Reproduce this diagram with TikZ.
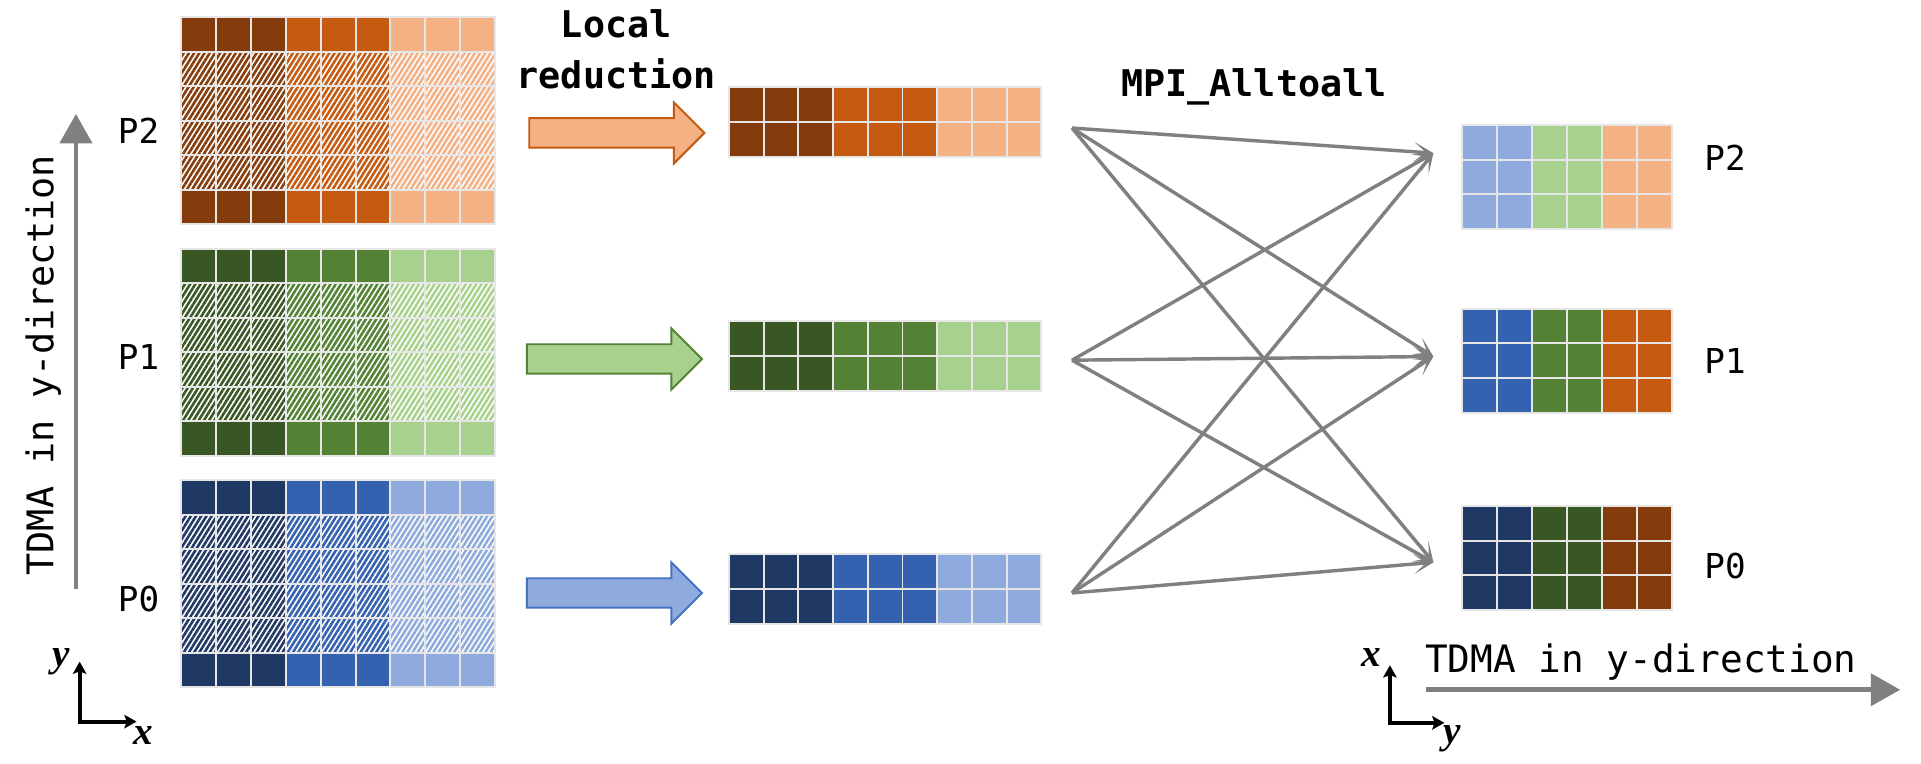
\documentclass[tikz,border=0pt]{standalone}
\usepackage{fontspec}
\newfontfamily\monof{DejaVu Sans Mono}
\newfontfamily\serf{Liberation Serif}
\usetikzlibrary{arrows.meta,patterns.meta}
\definecolor{od}{HTML}{843C0C}
\definecolor{om}{HTML}{C55A11}
\definecolor{ol}{HTML}{F4B183}
\definecolor{gd}{HTML}{385723}
\definecolor{gm}{HTML}{548235}
\definecolor{gl}{HTML}{A9D18E}
\definecolor{bd}{HTML}{203864}
\definecolor{bm}{HTML}{3461B0}
\definecolor{bl}{HTML}{8FAADC}
\definecolor{bb}{HTML}{4472C4}
\definecolor{arrgray}{HTML}{808080}
\definecolor{cellline}{HTML}{E6E6E6}
\tikzset{
  gridcell/.style={draw=cellline, line width=1.6pt},
  lbl/.style={inner sep=0pt, font=\monof\fontsize{28}{34}\selectfont},
  bigtxt/.style={inner sep=0pt, font=\monof\fontsize{30}{36}\selectfont},
  htxt/.style={inner sep=0pt, font=\monof\fontsize{30.8}{36}\selectfont},
  boldtxt/.style={inner sep=0pt, font=\monof\bfseries\fontsize{30}{36}\selectfont},
  axlbl/.style={inner sep=0pt, font=\serf\itshape\bfseries\fontsize{32}{36}\selectfont},
  alltoall/.style={draw=arrgray, line width=2.8pt, -{Stealth[length=16pt,width=16pt,inset=10pt]}},
  grayaxis/.style={draw=arrgray, line width=4pt, -{Triangle[length=24pt,width=26pt]}},
  blackaxis/.style={draw=black, line width=3.2pt, line join=miter, {Stealth[length=10pt,width=11pt,inset=2pt]}-{Stealth[length=10pt,width=11pt,inset=2pt]}},
  blockarrow/.style={line width=1.6pt, line join=miter}
}
\begin{document}
\begin{tikzpicture}[x=1pt,y=-1pt]
\useasboundingbox (0,0) rectangle (1568,623);
\fill[white] (0,0) rectangle (1568,623);

% ---------- left grids (9 columns x 6 rows) ----------
\foreach \top/\pre in {14/o, 203/g, 392/b} {
  \foreach \c in {0,...,8} {
    \pgfmathtruncatemacro\grp{\c/3}
    \ifcase\grp \def\sh{d}\or \def\sh{m}\or \def\sh{l}\fi
    \edef\cc{\pre\sh}
    \foreach \r in {0,...,5} {
      \pgfmathsetmacro\xa{148+\c*28.44}
      \pgfmathsetmacro\ya{\top+\r*28.17}
      \ifnum\r=0
        \fill[fill=\cc] (\xa,\ya) rectangle ++(28.44,28.17);
      \else\ifnum\r=5
        \fill[fill=\cc] (\xa,\ya) rectangle ++(28.44,28.17);
      \else
        \fill[white] (\xa,\ya) rectangle ++(28.44,28.17);
        \fill[pattern={Lines[angle=58,distance=3.6pt,line width=2.1pt]}, pattern color=\cc] (\xa,\ya) rectangle ++(28.44,28.17);
      \fi\fi
      \draw[gridcell] (\xa,\ya) rectangle ++(28.44,28.17);
    }
  }
}

% ---------- reduced grids (9 columns x 2 rows) ----------
\foreach \top/\pre in {71/o, 262/g, 452/b} {
  \foreach \c in {0,...,8} {
    \pgfmathtruncatemacro\grp{\c/3}
    \ifcase\grp \def\sh{d}\or \def\sh{m}\or \def\sh{l}\fi
    \edef\cc{\pre\sh}
    \foreach \r in {0,1} {
      \pgfmathsetmacro\xa{595+\c*28.33}
      \pgfmathsetmacro\ya{\top+\r*28.5}
      \fill[fill=\cc] (\xa,\ya) rectangle ++(28.33,28.5);
      \draw[gridcell] (\xa,\ya) rectangle ++(28.33,28.5);
    }
  }
}

% ---------- right grids (6 columns x 3 rows) ----------
\foreach \top/\sh in {102/l, 252/m, 413/d} {
  \foreach \c in {0,...,5} {
    \pgfmathtruncatemacro\grp{\c/2}
    \ifcase\grp \def\pre{b}\or \def\pre{g}\or \def\pre{o}\fi
    \edef\cc{\pre\sh}
    \foreach \r in {0,1,2} {
      \pgfmathsetmacro\xa{1193+\c*28.67}
      \pgfmathsetmacro\ya{\top+\r*28.33}
      \fill[fill=\cc] (\xa,\ya) rectangle ++(28.67,28.33);
      \draw[gridcell] (\xa,\ya) rectangle ++(28.67,28.33);
    }
  }
}

% ---------- block arrows ----------
\foreach \cy/\fc/\dc/\xs in {108.5/ol/om/432, 293/gl/gm/430, 484/bl/bb/430} {
  \draw[blockarrow, fill=\fc, draw=\dc]
    (\xs,\cy-12) -- (\xs+118,\cy-12) -- (\xs+118,\cy-25) -- (\xs+143,\cy)
    -- (\xs+118,\cy+25) -- (\xs+118,\cy+12) -- (\xs,\cy+12) -- cycle;
}

% ---------- labels ----------
\node[lbl, anchor=base west] (L2) at (96,117) {P2};
\node[lbl, anchor=base west] (L1) at (96,302) {P1};
\node[lbl, anchor=base west] (L0) at (96,499) {P0};
\node[lbl, anchor=base west] (R2) at (1391,139.5) {P2};
\node[lbl, anchor=base west] (R1) at (1391,305) {P1};
\node[lbl, anchor=base west] (R0) at (1391,472) {P0};

\node[boldtxt, anchor=base] (local) at (503,31) {Local};
\node[boldtxt, anchor=base] (reduction) at (503,72) {reduction};
\node[boldtxt, anchor=base] (mpi) at (1023.5,79) {MPI\_Alltoall};

% ---------- all-to-all connectors ----------
\coordinate (s2) at (875,104.5);
\coordinate (s1) at (875,294);
\coordinate (s0) at (875,484);
\coordinate (t2) at (1170,125);
\coordinate (t1) at (1170,291);
\coordinate (t0) at (1170,459);
\foreach \s in {s2,s1,s0} {
  \foreach \t in {t2,t1,t0} {
    \draw[alltoall] (\s) -- (\t);
  }
}

% ---------- TDMA direction arrows ----------
\coordinate (va) at (62,481);
\coordinate (vb) at (62,93);
\draw[grayaxis] (va) -- (vb);
\node[bigtxt, rotate=90, anchor=base] (vtext) at (43.5,298) {TDMA in y-direction};

\coordinate (ha) at (1164,563);
\coordinate (hb) at (1551,563);
\draw[grayaxis] (ha) -- (hb);
\node[htxt, anchor=base west] (htext) at (1163,549) {TDMA in y-direction};

% ---------- coordinate axes ----------
\coordinate (ly) at (65,540);
\coordinate (lo) at (65,589);
\coordinate (lx) at (111.5,589);
\draw[blackaxis] (ly) -- (lo) -- (lx);
\node[axlbl] (lyl) at (50,540) {y};
\node[axlbl] (lxl) at (117,600) {x};

\coordinate (ry) at (1134.5,543);
\coordinate (ro) at (1134.5,590);
\coordinate (rx) at (1179,590);
\draw[blackaxis] (ry) -- (ro) -- (rx);
\node[axlbl] (ryl) at (1119,537) {x};
\node[axlbl] (ryy) at (1185,603) {y};
\end{tikzpicture}
\end{document}
